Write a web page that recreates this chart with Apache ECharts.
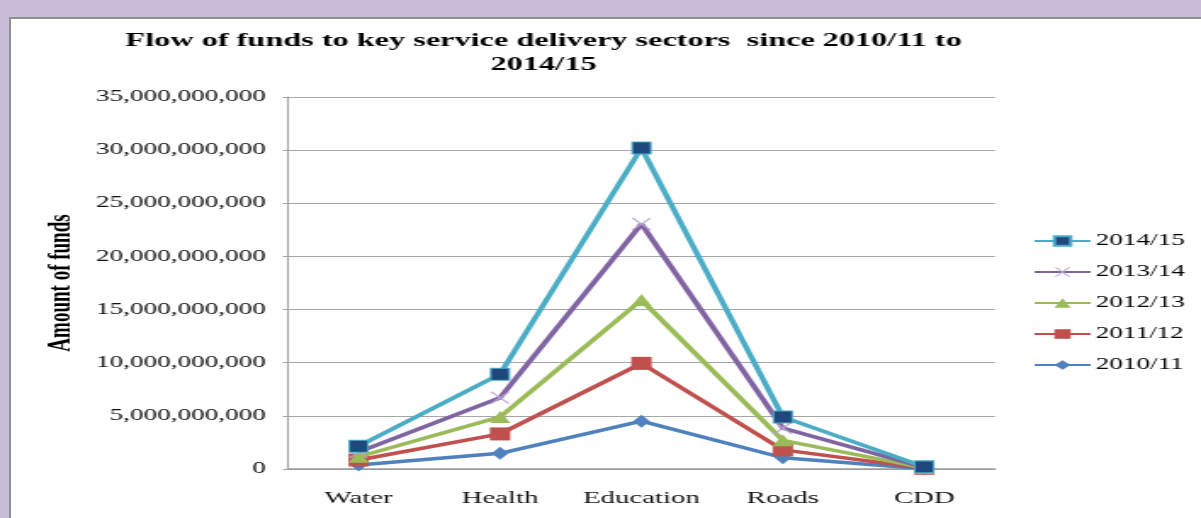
<!DOCTYPE html>
<html>
<head>
<meta charset="utf-8">
<script src="https://cdn.jsdelivr.net/npm/echarts@6/dist/echarts.min.js"></script>
<style>
  html, body { margin: 0; padding: 0; width: 1201px; height: 518px; overflow: hidden; background: #c9bdd9; }
  #frame { position: absolute; left: 9px; top: 17px; width: 1200px; height: 510px; background: #ffffff; border-left: 2px solid #8f8f8f; border-top: 2px solid #8f8f8f; }
  #chart { position: absolute; left: 0; top: 0; width: 707px; height: 518px; transform-origin: 0 0; transform: scaleX(1.69873); }
</style>
</head>
<body>
<div id="frame"></div>
<div id="chart"></div>
<script>
// ---- data ----
const categories = ['Water', 'Health', 'Education', 'Roads', 'CDD'];
const seriesNames = ['2010/11', '2011/12', '2012/13', '2013/14', '2014/15'];
const v2010_11 = [380000000, 1480000000, 4500000000, 1060000000, 30000000];
const v2011_12 = [850000000, 3300000000, 9940000000, 1800000000, 70000000];
const v2012_13 = [1150000000, 4900000000, 15900000000, 2700000000, 100000000];
const v2013_14 = [1600000000, 6700000000, 23050000000, 3850000000, 150000000];
const v2014_15 = [2150000000, 8920000000, 30200000000, 4900000000, 200000000];
const yTicks = { min: 0, max: 35000000000, interval: 5000000000 };
const titleText = 'Flow of funds to key service delivery sectors  since 2010/11 to\n2014/15';
const yAxisName = 'Amount of funds';

const chart = echarts.init(document.getElementById('chart'), null, { renderer: 'canvas' });
const serif = '"Liberation Serif", "Times New Roman", serif';

const xPath = 'path://M0,0 L1.5,0 L6,5.2 L10.5,0 L12,0 L6.8,6 L12,12 L10.5,12 L6,6.8 L1.5,12 L0,12 L5.2,6 Z';

function fmt(v) { return String(v).replace(/\B(?=(\d{3})+(?!\d))/g, ','); }

const styles = [
  { data: v2010_11, color: '#4f81bd', symbol: 'diamond', size: [10, 13], symColor: '#4f81bd', border: null },
  { data: v2011_12, color: '#c0504d', symbol: 'rect', size: [12, 13], symColor: '#c0504d', border: null },
  { data: v2012_13, color: '#9bbb59', symbol: 'triangle', size: [12, 12], symColor: '#9bbb59', border: null },
  { data: v2013_14, color: '#8064a2', symbol: xPath, size: [12, 12], symColor: '#b7a6d0', border: null },
  { data: v2014_15, color: '#4bacc6', symbol: 'rect', size: [11, 12], symColor: '#1f497d', border: '#4bacc6' }
];

const series = styles.map((s, i) => ({
  name: seriesNames[i],
  type: 'line',
  data: s.data,
  symbol: s.symbol,
  symbolSize: s.size,
  showSymbol: true,
  lineStyle: { color: s.color, width: 3.5 },
  itemStyle: { color: s.symColor, borderColor: s.border || s.symColor, borderWidth: s.border ? 1 : 0 },
  emphasis: { disabled: true },
  z: 2 + i
}));

chart.setOption({
  animation: false,
  backgroundColor: 'transparent',
  title: {
    text: titleText,
    left: 315,
    textAlign: 'center',
    top: 24,
    textStyle: { fontFamily: serif, fontWeight: 'bold', fontSize: 19, lineHeight: 24, color: '#000' }
  },
  legend: {
    data: seriesNames.slice().reverse(),
    orient: 'vertical',
    left: 603,
    top: 228,
    itemWidth: 33,
    itemHeight: 12,
    itemGap: 15,
    textStyle: { fontFamily: serif, fontSize: 16, color: '#000', padding: [0, 0, 0, -2] }
  },
  grid: { left: 169.5, right: 121.3, top: 97, bottom: 49, containLabel: false },
  xAxis: {
    type: 'category',
    data: categories,
    boundaryGap: true,
    axisLine: { lineStyle: { color: '#9a9a9a', width: 1.5 } },
    axisTick: { show: false },
    axisLabel: { fontFamily: serif, fontSize: 17, color: '#111', margin: 21, interval: 0 }
  },
  yAxis: {
    type: 'value',
    min: yTicks.min,
    max: yTicks.max,
    interval: yTicks.interval,
    name: yAxisName,
    nameLocation: 'middle',
    nameRotate: 90,
    nameGap: 124,
    nameTextStyle: { fontFamily: serif, fontWeight: 'bold', fontSize: 19, color: '#000' },
    axisLine: { show: true, lineStyle: { color: '#a0a0a0', width: 1 } },
    axisTick: { show: true, length: 3, lineStyle: { color: '#a0a0a0' } },
    splitLine: { show: true, lineStyle: { color: '#a6a6a6', width: 1.2 } },
    axisLabel: { fontFamily: serif, fontSize: 16, color: '#111', margin: 13, formatter: fmt }
  },
  series: series
});
</script>
</body>
</html>
